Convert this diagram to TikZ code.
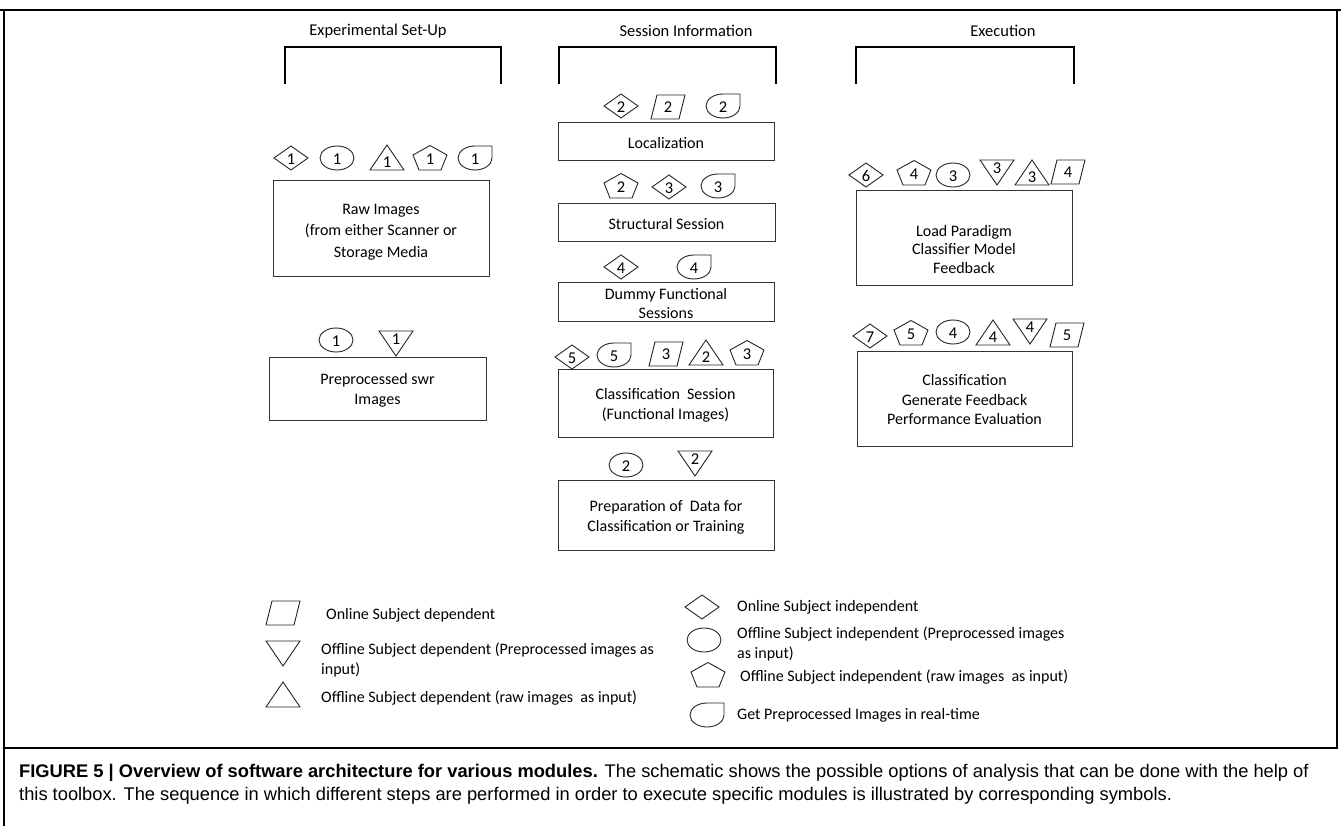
\documentclass[tikz,border=0pt]{standalone}
\usepackage{fontspec}
\setmainfont{Carlito}
\newfontfamily\capfont{Liberation Sans}
\begin{document}
\begin{tikzpicture}[x=1pt,y=-1pt]
\tikzset{
  sym/.style={draw=black!85, line width=0.9pt, fill=white},
  num/.style={font=\fontsize{16.5}{16.5}\selectfont, inner sep=0pt},
  box/.style={draw=black!80, line width=1pt, rectangle, inner sep=0pt},
  btext/.style={align=center, font=\fontsize{16}{20}\selectfont, inner sep=0pt},
  head/.style={font=\fontsize{16.5}{18}\selectfont, inner sep=0pt},
  legtext/.style={anchor=west, align=left, font=\fontsize{16}{20}\selectfont, inner sep=0pt},
  captext/.style={anchor=west, inner sep=0pt, font=\capfont\fontsize{18.3}{22}\selectfont},
  bracket/.style={line width=2.2pt, line cap=rect},
  frame/.style={line width=1.8pt},
  % symbol pics: value = number printed inside
  sdiam/.pic={\draw[sym] (-17,0)--(0,-12)--(17,0)--(0,12)--cycle; \node[num] (-n) at (0,1) {#1};},
  sell/.pic={\draw[sym] (0,0) ellipse[x radius=17, y radius=12]; \node[num] (-n) at (0,1) {#1};},
  stri/.pic={\draw[sym] (0,-13)--(17,12)--(-17,12)--cycle; \node[num] (-n) at (0,4) {#1};},
  sdtri/.pic={\draw[sym] (0,13)--(17,-12)--(-17,-12)--cycle; \node[num] (-n) at (0,-4) {#1};},
  spent/.pic={\draw[sym] (0,-12.5)--(17,-3)--(11,12)--(-11,12)--(-17,-3)--cycle; \node[num] (-n) at (0,1.5) {#1};},
  spara/.pic={\draw[sym] (-17,12)--(11,12)--(17,-12)--(-11,-12)--cycle; \node[num] (-n) at (0,0.5) {#1};},
  stear/.pic={\draw[sym] (17,-12)--(17,0) arc[start angle=0, end angle=270, x radius=17, y radius=12]--cycle; \node[num] (-n) at (0,1) {#1};},
}
\useasboundingbox (0,0) rectangle (1341,826);

% frame and caption rule
\draw[frame] (0,10) -- (1341,10);
\draw[frame] (4,10) -- (4,826);
\draw[line width=1.2pt] (1337,10) -- (1337,748) -- (4,748);

% column headings and brackets
\node[head] (h1) at (378,31) {Experimental Set-Up};
\node[head] (h2) at (686,31) {Session Information};
\node[head] (h3) at (1003,31) {Execution};
\draw[bracket] (285,83) -- (285,47) -- (501,47) -- (501,83);
\draw[bracket] (559,83) -- (559,47) -- (776,47) -- (776,83);
\draw[bracket] (856,83) -- (856,47) -- (1074,47) -- (1074,83);

% ---- Experimental Set-Up
\node[box, minimum width=216, minimum height=96] (raw) at (381,229) {};
\node[btext, font=\fontsize{16}{21.5}\selectfont] (rawt) at (381,232) {Raw Images\\(from either Scanner or\\Storage Media};
\pic (a1) at (291,158) {sdiam=1};
\pic (a2) at (337,158) {sell=1};
\pic (a3) at (387,158) {stri=1};
\pic (a4) at (430,158) {spent=1};
\pic (a5) at (475,158) {stear=1};

\node[box, minimum width=217, minimum height=63] (pre) at (377.5,388.5) {};
\node[btext] (pret) at (377.5,390) {Preprocessed swr\\Images};
\pic (b1) at (336,340) {sell=1};
\pic (b2) at (396,343) {sdtri=1};

% ---- Session Information
\node[box, minimum width=216, minimum height=38] (loc) at (666,142) {};
\node[btext] (loct) at (666,143) {Localization};
\pic (c1) at (621,106) {sdiam=2};
\pic (c2) at (668,107) {spara=2};
\pic (c3) at (723,106) {stear=2};

\node[box, minimum width=217, minimum height=38] (str) at (666.5,223) {};
\node[btext] (strt) at (666.5,224) {Structural Session};
\pic (d1) at (621,186) {spent=2};
\pic (d2) at (669,187) {sdiam=3};
\pic (d3) at (718,186) {stear=3};

\node[box, minimum width=216, minimum height=38] (dum) at (666,302) {};
\node[btext, font=\fontsize{16}{19}\selectfont] (dumt) at (666,303.5) {Dummy Functional\\Sessions};
\pic (e1) at (621,267) {sdiam=4};
\pic (e2) at (694,267) {stear=4};

\node[box, minimum width=215, minimum height=68] (cls) at (665.5,403) {};
\node[btext] (clst) at (665.5,405) {Classification\ \ Session\\(Functional Images)};
\pic (f1) at (572,357) {sdiam=5};
\pic (f2) at (614,355) {stear=5};
\pic (f3) at (666,354) {spara=3};
\pic (f4) at (706,353) {stri=2};
\pic (f5) at (747,353) {spent=3};

\node[box, minimum width=216, minimum height=70] (prep) at (666,515) {};
\node[btext] (prept) at (666,517) {Preparation of\ \ Data for\\Classification or Training};
\pic (g1) at (626,465) {sell=2};
\pic (g2) at (695,463) {sdtri=2};

% ---- Execution
\node[box, minimum width=216, minimum height=95] (load) at (964,238.5) {};
\node[btext, font=\fontsize{16}{18.5}\selectfont] (loadt) at (964,249.5) {Load Paradigm\\Classifier Model\\Feedback};
\pic (k1) at (866,175) {sdiam=6};
\pic (k2) at (914,173) {spent=4};
\pic (k3) at (953,175) {sell=3};
\pic (k4) at (997,172) {sdtri=3};
\pic (k5) at (1032,173) {stri=3};
\pic (k6) at (1068,172) {spara=4};

\node[box, minimum width=215, minimum height=95] (clx) at (964.5,398.5) {};
\node[btext, font=\fontsize{16}{19.5}\selectfont] (clxt) at (964.5,400) {Classification\\Generate Feedback\\Performance Evaluation};
\pic (m1) at (870,336) {sdiam=7};
\pic (m2) at (911,333) {spent=5};
\pic (m3) at (953,332) {sell=4};
\pic (m4) at (993,333) {stri=4};
\pic (m5) at (1030,331) {sdtri=4};
\pic (m6) at (1067,335) {spara=5};

% ---- legend
\pic (l1) at (283,613) {spara={}};
\node[legtext] (l1t) at (326,615) {Online Subject dependent};
\pic (l2) at (283,653) {sdtri={}};
\node[legtext] (l2t) at (321,660) {Offline Subject dependent (Preprocessed images as\\input)};
\pic (l3) at (283,695) {stri={}};
\node[legtext] (l3t) at (321,698) {Offline Subject dependent (raw images\ \ as input)};

\pic (r1) at (702,607) {sdiam={}};
\node[legtext] (r1t) at (737,607) {Online Subject independent};
\pic (r2) at (704,640) {sell={}};
\node[legtext] (r2t) at (737,644) {Offline Subject independent (Preprocessed images\\as input)};
\pic (r3) at (708,675) {spent={}};
\node[legtext] (r3t) at (740,677) {Offline Subject independent (raw images\ \ as input)};
\pic (r4) at (707,715) {stear={}};
\node[legtext] (r4t) at (737,715) {Get Preprocessed Images in real-time};

% ---- caption
\node[captext] (cap1) at (19,773)
  {\textbf{FIGURE 5 | Overview of software architecture for various modules.} The schematic shows the possible options of analysis that can be done with the help of};
\node[captext] (cap2) at (19,796)
  {this toolbox. The sequence in which different steps are performed in order to execute specific modules is illustrated by corresponding symbols.};
\end{tikzpicture}
\end{document}
